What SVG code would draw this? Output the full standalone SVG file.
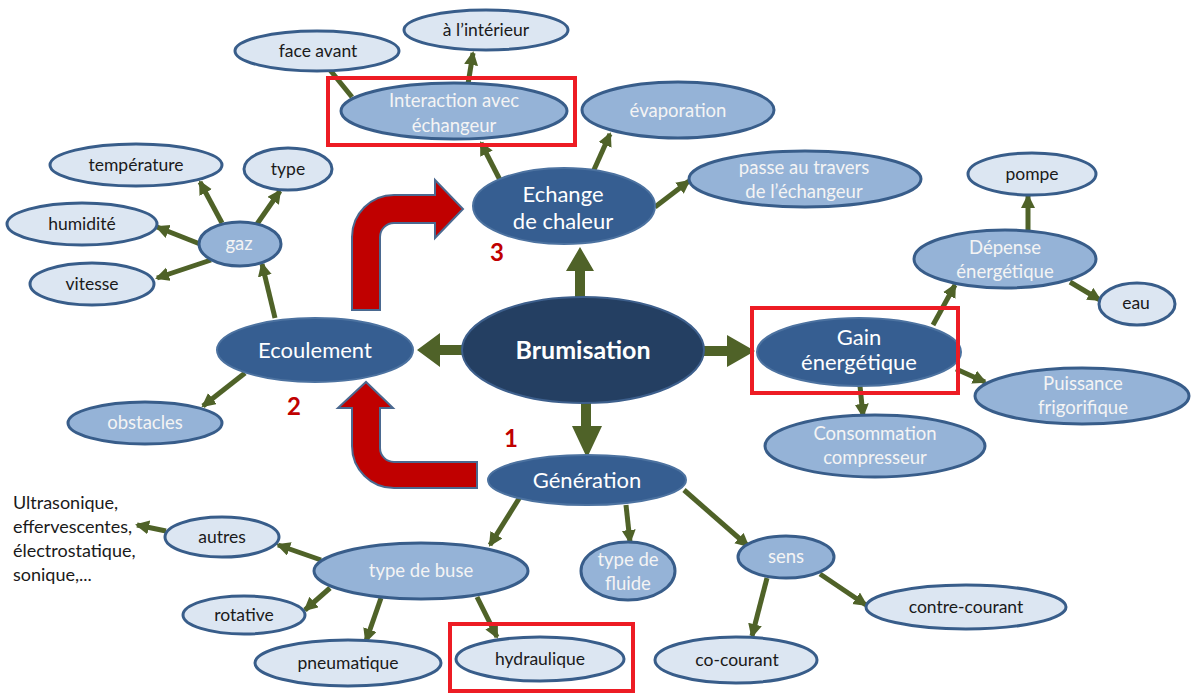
<svg xmlns="http://www.w3.org/2000/svg" width="1194" height="695" viewBox="0 0 1194 695">
<defs>
<style>
text{font-family:Lato,"Liberation Sans",sans-serif;text-anchor:middle}
.core{fill:#243F62;stroke:#3D5F8C;stroke-width:2}
.dark{fill:#365E91;stroke:#4C72A0;stroke-width:2}
.mid{fill:#95B3D7;stroke:#385D8A;stroke-width:3}
.light{fill:#DCE6F2;stroke:#385D8A;stroke-width:3}
.tw{fill:#FFFFFF;font-size:22px}
.tm{fill:#F4F4F4;font-size:18.5px}
.td{fill:#1A1A1A;font-size:17.5px}
.tl{fill:#1A1A1A;font-size:18px;text-anchor:start}
.c{stroke:#4F6228;stroke-width:5;fill:none;marker-end:url(#ah)}
.cn{stroke:#4F6228;stroke-width:5;fill:none}
.ta{fill:#4F6228}
.red{fill:#C00000;stroke:#4A6990;stroke-width:2}
.num{fill:#C00000;font-size:24px;font-weight:bold}
.hl{fill:none;stroke:#ED1C24;stroke-width:4}
</style>
<marker id="ah" markerUnits="userSpaceOnUse" markerWidth="15" markerHeight="15" refX="12" refY="7" orient="auto">
<path d="M0,0 L14,7 L0,14 Z" fill="#4F6228"/>
</marker>
</defs>
<rect width="1194" height="695" fill="#FFFFFF"/>

<g id="connectors">
<polygon class="ta" points="575,299 575,271 566,271 580,247 594,271 585,271 585,299"/>
<polygon class="ta" points="464,345 440,345 440,333 417,350 440,367 440,355 464,355"/>
<polygon class="ta" points="703,346 727,346 727,335 755,351 727,367 727,356 703,356"/>
<polygon class="ta" points="581,402 581,426 572,426 587,458 602,426 591,426 591,402"/>
<line class="c" x1="500" y1="180" x2="481" y2="143"/>
<line class="c" x1="468" y1="84" x2="473" y2="53"/>
<line class="cn" x1="352" y1="97" x2="330" y2="70"/>
<line class="c" x1="593" y1="172" x2="610" y2="134"/>
<line class="c" x1="655" y1="207" x2="689" y2="181"/>
<line class="c" x1="275" y1="318" x2="262" y2="264"/>
<line class="c" x1="245" y1="373" x2="203" y2="406"/>
<line class="c" x1="222" y1="223" x2="200" y2="182"/>
<line class="c" x1="257" y1="224" x2="280" y2="191"/>
<line class="c" x1="200" y1="244" x2="157" y2="227"/>
<line class="c" x1="211" y1="260" x2="157" y2="278"/>
<line class="c" x1="933" y1="325" x2="955" y2="285"/>
<line class="c" x1="1028" y1="230" x2="1028" y2="196"/>
<line class="c" x1="1070" y1="282" x2="1100" y2="300"/>
<line class="c" x1="860" y1="386" x2="863" y2="416"/>
<line class="c" x1="956" y1="369" x2="985" y2="382"/>
<line class="c" x1="520" y1="497" x2="490" y2="545"/>
<line class="c" x1="626" y1="505" x2="630" y2="542"/>
<line class="c" x1="684" y1="490" x2="748" y2="546"/>
<line class="c" x1="820" y1="574" x2="866" y2="605"/>
<line class="c" x1="767" y1="578" x2="752" y2="636"/>
<line class="c" x1="321" y1="560" x2="278" y2="545"/>
<line class="c" x1="166" y1="531" x2="137" y2="525"/>
<line class="c" x1="330" y1="588" x2="305" y2="610"/>
<line class="c" x1="381" y1="598" x2="366" y2="641"/>
<line class="c" x1="477" y1="597" x2="497" y2="637"/>
</g>

<g id="flow-arrows">
<path class="red" d="M352,310 L352,237 A42,42 0 0 1 394,195 L435,195 L435,180 L463,209 L435,238 L435,223 L394,223 A14,14 0 0 0 380,237 L380,310 Z"/>
<path class="red" d="M477,462 L394,462 A14,14 0 0 1 380,448 L380,408 L393,408 L366,382 L338,408 L352,408 L352,446 A42,42 0 0 0 394,488 L477,488 Z"/>
</g>

<g id="brumisation"><ellipse class="core" cx="583" cy="350" rx="121" ry="53"/><text x="583" y="359" fill="#FFFFFF" font-size="25" font-weight="bold">Brumisation</text></g>
<g id="echange"><ellipse class="dark" cx="564" cy="206" rx="91" ry="38"/><text class="tw" x="563" y="202">Echange</text><text class="tw" x="563" y="229">de chaleur</text></g>
<g id="interaction"><ellipse class="mid" cx="454" cy="111" rx="113" ry="28"/><text class="tm" x="454" y="107">Interaction avec</text><text class="tm" x="454" y="132">échangeur</text></g>
<g id="face-avant"><ellipse class="light" cx="317" cy="51" rx="82" ry="20"/><text class="td" x="318" y="57">face avant</text></g>
<g id="interieur"><ellipse class="light" cx="486" cy="30" rx="82" ry="20"/><text class="td" x="486" y="36">à l’intérieur</text></g>
<g id="evaporation"><ellipse class="mid" cx="678" cy="110" rx="96" ry="28"/><text class="tm" x="678" y="117">évaporation</text></g>
<g id="passe"><ellipse class="mid" cx="805" cy="179" rx="116" ry="28"/><text class="tm" x="804" y="174">passe au travers</text><text class="tm" x="804" y="198">de l’échangeur</text></g>
<g id="ecoulement"><ellipse class="dark" cx="315" cy="350" rx="98" ry="32"/><text class="tw" x="315" y="358">Ecoulement</text></g>
<g id="gaz"><ellipse class="mid" cx="240" cy="244" rx="41" ry="22"/><text class="tm" x="239" y="250">gaz</text></g>
<g id="temperature"><ellipse class="light" cx="136" cy="165" rx="86" ry="21"/><text class="td" x="136" y="171">température</text></g>
<g id="type"><ellipse class="light" cx="288" cy="169" rx="44" ry="21"/><text class="td" x="288" y="175">type</text></g>
<g id="humidite"><ellipse class="light" cx="82" cy="224" rx="75" ry="21"/><text class="td" x="82" y="230">humidité</text></g>
<g id="vitesse"><ellipse class="light" cx="92" cy="284" rx="62" ry="21"/><text class="td" x="92" y="290">vitesse</text></g>
<g id="obstacles"><ellipse class="mid" cx="145" cy="423" rx="77" ry="21"/><text class="tm" x="145" y="429">obstacles</text></g>
<g id="gain"><ellipse class="dark" cx="859" cy="352" rx="102" ry="34"/><text class="tw" x="859" y="345">Gain</text><text class="tw" x="859" y="370">énergétique</text></g>
<g id="depense"><ellipse class="mid" cx="1005" cy="259" rx="91" ry="29"/><text class="tm" x="1005" y="254">Dépense</text><text class="tm" x="1005" y="278">énergétique</text></g>
<g id="pompe"><ellipse class="light" cx="1032" cy="174" rx="64" ry="21"/><text class="td" x="1032" y="180">pompe</text></g>
<g id="eau"><ellipse class="light" cx="1137" cy="304" rx="38" ry="21"/><text class="td" x="1136" y="309">eau</text></g>
<g id="consommation"><ellipse class="mid" cx="875" cy="446" rx="110" ry="31"/><text class="tm" x="875" y="440">Consommation</text><text class="tm" x="875" y="464">compresseur</text></g>
<g id="puissance"><ellipse class="mid" cx="1082" cy="396" rx="107" ry="28"/><text class="tm" x="1083" y="390">Puissance</text><text class="tm" x="1083" y="414">frigorifique</text></g>
<g id="generation"><ellipse class="dark" cx="587" cy="480" rx="99" ry="25"/><text class="tw" x="587" y="488">Génération</text></g>
<g id="type-buse"><ellipse class="mid" cx="421" cy="571" rx="107" ry="28"/><text class="tm" x="421" y="577">type de buse</text></g>
<g id="autres"><ellipse class="light" cx="222" cy="537" rx="57" ry="20"/><text class="td" x="222" y="543">autres</text></g>
<g id="autres-liste"><text class="tl" x="13" y="509">Ultrasonique,</text><text class="tl" x="13" y="533">effervescentes,</text><text class="tl" x="13" y="557">électrostatique,</text><text class="tl" x="13" y="581">sonique,...</text></g>
<g id="rotative"><ellipse class="light" cx="244" cy="615" rx="61" ry="19"/><text class="td" x="244" y="621">rotative</text></g>
<g id="pneumatique"><ellipse class="light" cx="348" cy="663" rx="93" ry="23"/><text class="td" x="348" y="669">pneumatique</text></g>
<g id="hydraulique"><ellipse class="light" cx="540" cy="659" rx="84" ry="22"/><text class="td" x="540" y="665">hydraulique</text></g>
<g id="type-fluide"><ellipse class="mid" cx="628" cy="571" rx="47" ry="29"/><text class="tm" x="628" y="566">type de</text><text class="tm" x="628" y="590">fluide</text></g>
<g id="sens"><ellipse class="mid" cx="786" cy="557" rx="48" ry="21"/><text class="tm" x="786" y="563">sens</text></g>
<g id="contre-courant"><ellipse class="light" cx="966" cy="607" rx="100" ry="22"/><text class="td" x="966" y="613">contre-courant</text></g>
<g id="co-courant"><ellipse class="light" cx="736" cy="660" rx="81" ry="23"/><text class="td" x="737" y="666">co-courant</text></g>

<g id="numbers"><text class="num" x="497" y="261">3</text><text class="num" x="294" y="415">2</text><text class="num" x="511" y="447">1</text></g>

<g id="highlights">
<rect class="hl" x="328" y="78" width="247" height="67"/>
<rect class="hl" x="752" y="308" width="206" height="85"/>
<rect class="hl" x="450" y="624" width="183" height="67"/>
</g>
</svg>
